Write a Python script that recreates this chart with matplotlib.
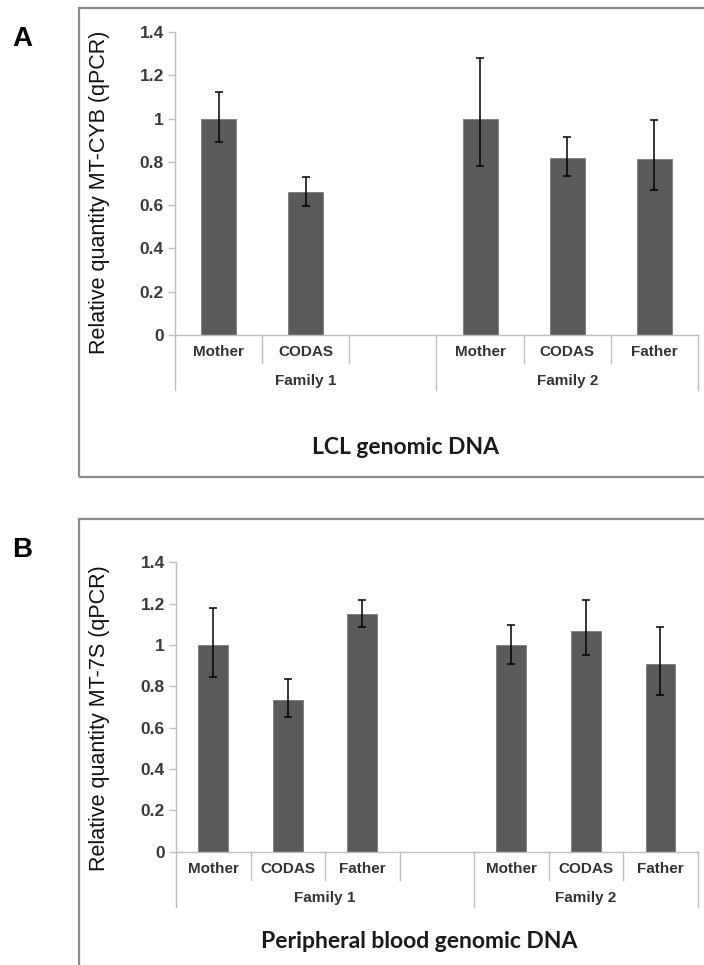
import numpy as np
import matplotlib
matplotlib.use("Agg")
import matplotlib.pyplot as plt
import matplotlib.transforms as mtransforms
from matplotlib.patches import Rectangle

# Panel A: LCL genomic DNA (MT-CYB)
a_labels = ["Mother", "CODAS", "", "Mother", "CODAS", "Father"]
a_values = [1.00, 0.66, None, 1.00, 0.82, 0.815]
a_err_lo = [0.11, 0.065, None, 0.22, 0.085, 0.145]
a_err_hi = [0.125, 0.07, None, 0.28, 0.095, 0.18]
a_groups = ["Family 1", "Family 2"]
a_group_sizes = [3, 3]

# Panel B: peripheral blood genomic DNA (MT-7S)
b_labels = ["Mother", "CODAS", "Father", "", "Mother", "CODAS", "Father"]
b_values = [1.00, 0.735, 1.15, None, 1.00, 1.07, 0.91]
b_err_lo = [0.155, 0.085, 0.065, None, 0.09, 0.12, 0.15]
b_err_hi = [0.18, 0.10, 0.07, None, 0.095, 0.15, 0.175]
b_groups = ["Family 1", "Family 2"]
b_group_sizes = [4, 3]

W, H = 704, 965
fig = plt.figure(figsize=(W / 100, H / 100), dpi=100)
plt.rcParams['font.family'] = ['Liberation Sans', 'DejaVu Sans']

AXIS_GREY = "#bfbfbf"


def px_axes(x0, x1, y_top, y_bot):
    return fig.add_axes([x0 / W, 1 - y_bot / H, (x1 - x0) / W, (y_bot - y_top) / H])


def draw_panel(ax, labels, values, lo, hi, groups, sizes, ylabel, ax_h_px,
               ylabel_y, title, title_xy):
    n = len(labels)
    idx = [i for i, v in enumerate(values) if v is not None]
    x = np.array(idx)
    y = np.array([values[i] for i in idx])
    err = np.array([[lo[i] for i in idx], [hi[i] for i in idx]])
    ax.bar(x, y, width=0.4, color="#5a5a5a", edgecolor="#7a7a7a", linewidth=0.6, zorder=2)
    ax.errorbar(x, y, yerr=err, fmt="none", ecolor="black", elinewidth=1.1,
                capsize=3, capthick=1.1, zorder=3)

    ax.set_xlim(-0.5, n - 0.5)
    ax.set_ylim(0, 1.4)
    ax.set_yticks(np.arange(0, 1.41, 0.2))
    ax.set_yticklabels(["0", "0.2", "0.4", "0.6", "0.8", "1", "1.2", "1.4"])
    ax.tick_params(axis="y", length=5, width=1, color=AXIS_GREY, pad=3,
                   labelsize=12.5, labelcolor="#3a3a3a")
    for lab in ax.get_yticklabels():
        lab.set_fontweight("bold")
    ax.set_xticks([])
    for s in ["top", "right", "bottom"]:
        ax.spines[s].set_visible(False)
    ax.spines["left"].set_color(AXIS_GREY)
    ax.spines["left"].set_linewidth(1)

    # multi-level category axis drawn below the plot
    tr = mtransforms.blended_transform_factory(ax.transData, ax.transAxes)
    short = -28 / ax_h_px
    long_ = -55 / ax_h_px
    ax.plot([-0.5, n - 0.5], [0, 0], color=AXIS_GREY, lw=1, transform=tr, clip_on=False)
    bounds = np.cumsum([0] + sizes) - 0.5
    for k in range(n + 1):
        xb = k - 0.5
        yb = long_ if np.any(np.isclose(bounds, xb)) else short
        ax.plot([xb, xb], [0, yb], color=AXIS_GREY, lw=1, transform=tr, clip_on=False)
    for i, lab in enumerate(labels):
        ax.text(i, -17.5 / ax_h_px, lab, transform=tr, ha="center", va="center",
                fontsize=11, fontweight="bold", color="#333333")
    for g, name in enumerate(groups):
        ax.text((bounds[g] + bounds[g + 1]) / 2, -46 / ax_h_px, name, transform=tr,
                ha="center", va="center", fontsize=11, fontweight="bold", color="#333333")

    fig.text(100 / W, 1 - ylabel_y / H, ylabel, rotation=90, ha="center", va="center",
             fontsize=15.5, color="#111111")
    fig.text(title_xy[0] / W, 1 - title_xy[1] / H, title, ha="center", va="center",
             fontsize=16.5, fontweight="bold", family=["Lato", "DejaVu Sans"], color="#1a1a1a")


# outer frames
fig.add_artist(Rectangle((79 / W, 1 - 477 / H), 640 / W, 469.5 / H, transform=fig.transFigure,
                         fill=False, edgecolor="#8a8a8a", linewidth=1.6))
fig.add_artist(Rectangle((79 / W, 1 - 975 / H), 640 / W, 456 / H, transform=fig.transFigure,
                         fill=False, edgecolor="#8a8a8a", linewidth=1.6))

ax_a = px_axes(175, 698, 32, 335)
draw_panel(ax_a, a_labels, a_values, a_err_lo, a_err_hi, a_groups, a_group_sizes,
           "Relative quantity MT-CYB (qPCR)", 303, 192, "LCL genomic DNA", (405, 447))

ax_b = px_axes(176, 697.7, 562.3, 851.7)
draw_panel(ax_b, b_labels, b_values, b_err_lo, b_err_hi, b_groups, b_group_sizes,
           "Relative quantity MT-7S (qPCR)", 289.4, 718.5,
           "Peripheral blood genomic DNA", (419, 942))

fig.text(22 / W, 1 - 38.5 / H, "A", ha="center", va="center", fontsize=20, fontweight="bold")
fig.text(22 / W, 1 - 550 / H, "B", ha="center", va="center", fontsize=20, fontweight="bold")

fig.savefig("out.png", dpi=100)
